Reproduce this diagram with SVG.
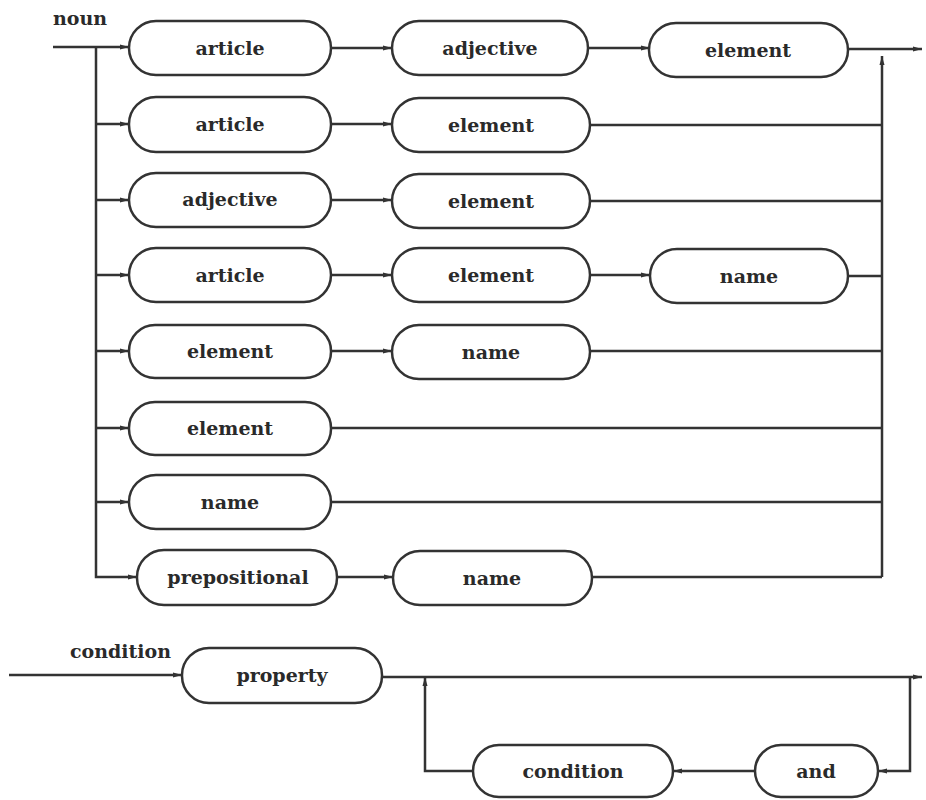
<svg xmlns="http://www.w3.org/2000/svg" width="926" height="800" viewBox="0 0 926 800">
<style>
.box{fill:#fff;stroke:#333;stroke-width:2.5}
.ln{fill:none;stroke:#333;stroke-width:2.5}
.t{font-family:"DejaVu Serif","Liberation Serif",serif;font-weight:bold;font-size:19px;fill:#2a2a2a;text-anchor:middle}
.lbl{font-family:"DejaVu Serif","Liberation Serif",serif;font-weight:bold;font-size:19px;fill:#2a2a2a}
</style>
<defs>
<marker id="a" markerUnits="userSpaceOnUse" markerWidth="10" markerHeight="8" refX="9" refY="4" orient="auto">
<path d="M0,1.5 L9,4 L0,6.5 Z" fill="#333"/>
</marker>
</defs>
<rect width="926" height="800" fill="#fff"/>
<text class="lbl" x="53" y="25">noun</text>
<text class="lbl" x="70" y="658">condition</text>
<g id="connectors">
<path class="ln" d="M53,47 H129" marker-end="url(#a)"/>
<path class="ln" d="M96,47 V577 H137" marker-end="url(#a)"/>
<path class="ln" d="M96,124 H129" marker-end="url(#a)"/>
<path class="ln" d="M96,200 H129" marker-end="url(#a)"/>
<path class="ln" d="M96,275 H129" marker-end="url(#a)"/>
<path class="ln" d="M96,351 H129" marker-end="url(#a)"/>
<path class="ln" d="M96,428 H129" marker-end="url(#a)"/>
<path class="ln" d="M96,502 H129" marker-end="url(#a)"/>
<path class="ln" d="M330,48 H392" marker-end="url(#a)"/>
<path class="ln" d="M588,48 H650" marker-end="url(#a)"/>
<path class="ln" d="M848,49 H922" marker-end="url(#a)"/>
<path class="ln" d="M882,577 V56" marker-end="url(#a)"/>
<path class="ln" d="M330,124 H392" marker-end="url(#a)"/>
<path class="ln" d="M590,125 H882"/>
<path class="ln" d="M330,200 H392" marker-end="url(#a)"/>
<path class="ln" d="M590,201 H882"/>
<path class="ln" d="M330,275 H392" marker-end="url(#a)"/>
<path class="ln" d="M590,275 H650" marker-end="url(#a)"/>
<path class="ln" d="M848,276 H882"/>
<path class="ln" d="M330,351 H392" marker-end="url(#a)"/>
<path class="ln" d="M590,351 H882"/>
<path class="ln" d="M330,428 H882"/>
<path class="ln" d="M330,502 H882"/>
<path class="ln" d="M337,577 H393" marker-end="url(#a)"/>
<path class="ln" d="M592,577 H882"/>
<path class="ln" d="M9,675 H182" marker-end="url(#a)"/>
<path class="ln" d="M382,677 H922" marker-end="url(#a)"/>
<path class="ln" d="M910,677 V771 H878" marker-end="url(#a)"/>
<path class="ln" d="M755,771 H673" marker-end="url(#a)"/>
<path class="ln" d="M473,771 H425 V677" marker-end="url(#a)"/>
</g>
<g id="n1"><rect class="box" x="129" y="21" width="202" height="54" rx="27"/><text class="t" x="230" y="55">article</text></g>
<g id="n2"><rect class="box" x="392" y="21" width="196" height="54" rx="27"/><text class="t" x="490" y="55">adjective</text></g>
<g id="n3"><rect class="box" x="649" y="23" width="199" height="54" rx="27"/><text class="t" x="748" y="57">element</text></g>
<g id="n4"><rect class="box" x="129" y="97" width="202" height="55" rx="27"/><text class="t" x="230" y="131">article</text></g>
<g id="n5"><rect class="box" x="392" y="98" width="198" height="54" rx="27"/><text class="t" x="491" y="132">element</text></g>
<g id="n6"><rect class="box" x="129" y="173" width="202" height="54" rx="27"/><text class="t" x="230" y="206">adjective</text></g>
<g id="n7"><rect class="box" x="392" y="174" width="198" height="54" rx="27"/><text class="t" x="491" y="208">element</text></g>
<g id="n8"><rect class="box" x="129" y="248" width="202" height="54" rx="27"/><text class="t" x="230" y="282">article</text></g>
<g id="n9"><rect class="box" x="392" y="248" width="198" height="54" rx="27"/><text class="t" x="491" y="282">element</text></g>
<g id="n10"><rect class="box" x="650" y="249" width="198" height="54" rx="27"/><text class="t" x="749" y="283">name</text></g>
<g id="n11"><rect class="box" x="129" y="325" width="202" height="53" rx="26"/><text class="t" x="230" y="358">element</text></g>
<g id="n12"><rect class="box" x="392" y="325" width="198" height="54" rx="27"/><text class="t" x="491" y="359">name</text></g>
<g id="n13"><rect class="box" x="129" y="402" width="202" height="53" rx="26"/><text class="t" x="230" y="435">element</text></g>
<g id="n14"><rect class="box" x="129" y="475" width="202" height="54" rx="27"/><text class="t" x="230" y="509">name</text></g>
<g id="n15"><rect class="box" x="137" y="550" width="200" height="55" rx="27"/><text class="t" x="238" y="584">prepositional</text></g>
<g id="n16"><rect class="box" x="393" y="551" width="199" height="54" rx="27"/><text class="t" x="492" y="585">name</text></g>
<g id="n17"><rect class="box" x="182" y="648" width="200" height="55" rx="27"/><text class="t" x="282" y="682">property</text></g>
<g id="n18"><rect class="box" x="473" y="745" width="200" height="52" rx="26"/><text class="t" x="573" y="778">condition</text></g>
<g id="n19"><rect class="box" x="755" y="745" width="123" height="52" rx="26"/><text class="t" x="816" y="778">and</text></g>
</svg>
